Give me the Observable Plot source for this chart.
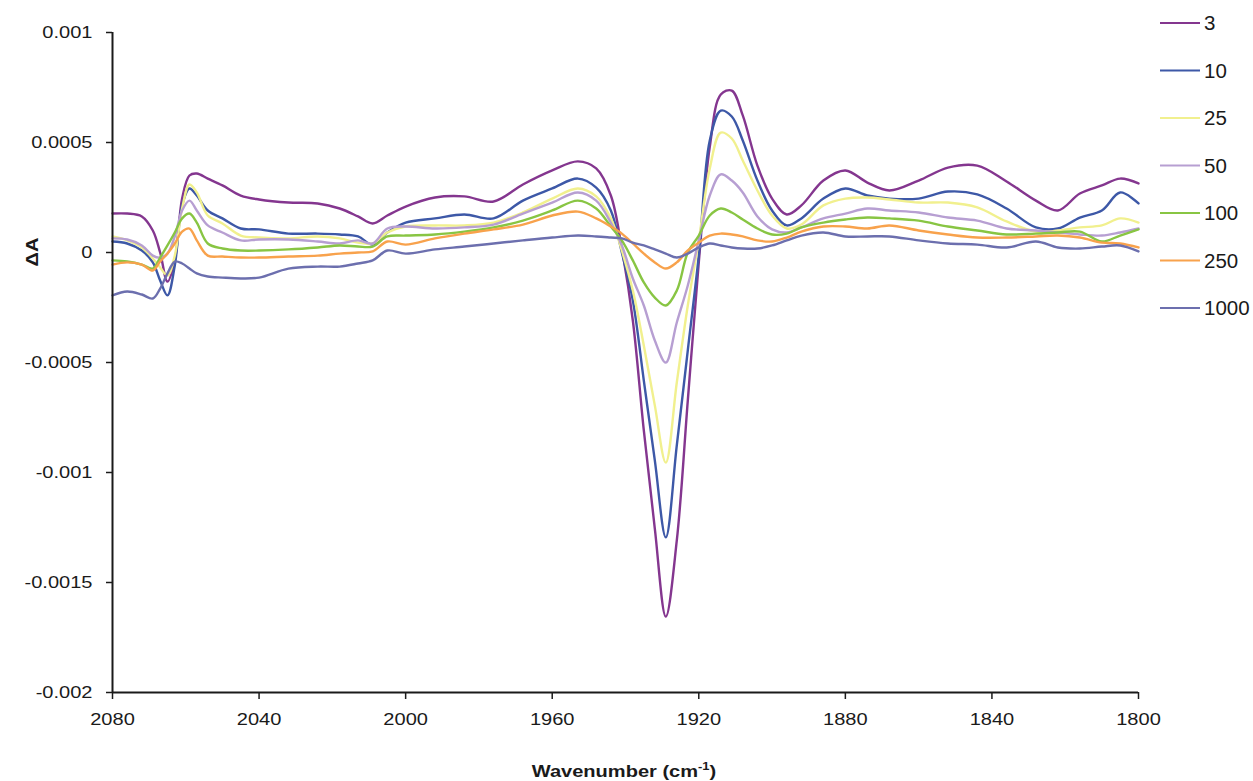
<!DOCTYPE html>
<html>
<head>
<meta charset="utf-8">
<script src="https://cdn.jsdelivr.net/npm/d3@7"></script>
<script src="https://cdn.jsdelivr.net/npm/@observablehq/plot@0.6"></script>
<style>
  html, body { margin: 0; padding: 0; background: #ffffff; }
  #chart { width: 1253px; height: 781px; }
</style>
</head>
<body>
<div id="chart"></div>
<script>
// ---- Data ----
const seriesNames = ["3", "10", "25", "50", "100", "250", "1000"];
const seriesColors = ["#84368f", "#3d58a7", "#f1f08e", "#b79fd2", "#88c543", "#f8a24c", "#6c6fae"];

const xTicks = [2080, 2040, 2000, 1960, 1920, 1880, 1840, 1800];
const yTicks = [0.001, 0.0005, 0, -0.0005, -0.001, -0.0015, -0.002];
const yTickLabels = ["0.001", "0.0005", "0", "-0.0005", "-0.001", "-0.0015", "-0.002"];

const wavenumber = [2080,2076,2072,2069,2067,2065,2063,2061,2059,2057,
  2054,2050,2045,2040,2032,2024,2018,2013,2009,2005,
  2000,1992,1984,1976,1968,1960,1953,1948,1944,1941,
  1938,1935,1932,1929,1926,1923,1920,1917,1914,1911,
  1908,1904,1900,1896,1892,1886,1880,1874,1868,1860,
  1852,1844,1836,1828,1822,1816,1810,1805,1800];

const dA_3 = [1.77e-4,1.77e-4,1.64e-4,1.00e-4,0,-1.32e-4,-0.36e-4,2.45e-4,3.50e-4,3.59e-4,
  3.36e-4,3.05e-4,2.59e-4,2.41e-4,2.27e-4,2.23e-4,2.00e-4,1.64e-4,1.32e-4,1.68e-4,
  2.09e-4,2.50e-4,2.55e-4,2.32e-4,3.09e-4,3.73e-4,4.14e-4,3.82e-4,2.59e-4,0.18e-4,
  -3.09e-4,-8.09e-4,-12.55e-4,-16.55e-4,-13.09e-4,-6.73e-4,-0.45e-4,4.80e-4,7.18e-4,7.36e-4,
  6.23e-4,3.95e-4,2.45e-4,1.73e-4,2.14e-4,3.27e-4,3.73e-4,3.18e-4,2.82e-4,3.27e-4,
  3.86e-4,3.95e-4,3.23e-4,2.36e-4,1.91e-4,2.68e-4,3.05e-4,3.36e-4,3.14e-4];

const dA_10 = [0.50e-4,0.41e-4,0.09e-4,-0.45e-4,-1.27e-4,-1.95e-4,-0.59e-4,2.14e-4,2.91e-4,2.59e-4,
  1.91e-4,1.55e-4,1.09e-4,1.05e-4,0.86e-4,0.86e-4,0.82e-4,0.73e-4,0.36e-4,0.91e-4,
  1.36e-4,1.55e-4,1.73e-4,1.55e-4,2.36e-4,2.91e-4,3.36e-4,2.95e-4,1.91e-4,0,
  -2.18e-4,-5.82e-4,-9.45e-4,-12.95e-4,-8.77e-4,-4.45e-4,-0.14e-4,5.09e-4,6.45e-4,6.18e-4,
  5.09e-4,3.27e-4,1.91e-4,1.23e-4,1.55e-4,2.45e-4,2.91e-4,2.59e-4,2.45e-4,2.45e-4,
  2.77e-4,2.64e-4,2.00e-4,1.14e-4,1.09e-4,1.59e-4,1.91e-4,2.73e-4,2.23e-4];

const dA_25 = [0.73e-4,0.55e-4,0.23e-4,-0.27e-4,-0.68e-4,-1.05e-4,-0.14e-4,2.00e-4,3.09e-4,2.73e-4,
  1.68e-4,1.32e-4,0.77e-4,0.68e-4,0.64e-4,0.73e-4,0.64e-4,0.45e-4,0.41e-4,0.91e-4,
  1.18e-4,1.23e-4,1.23e-4,1.36e-4,1.82e-4,2.45e-4,2.91e-4,2.55e-4,1.55e-4,0.09e-4,
  -1.73e-4,-4.23e-4,-6.95e-4,-9.55e-4,-5.91e-4,-2.41e-4,0.55e-4,3.82e-4,5.45e-4,5.18e-4,
  4.18e-4,2.82e-4,1.68e-4,1.09e-4,1.27e-4,2.14e-4,2.45e-4,2.50e-4,2.41e-4,2.27e-4,
  2.27e-4,2.05e-4,1.41e-4,0.95e-4,1.00e-4,1.14e-4,1.23e-4,1.55e-4,1.36e-4];

const dA_50 = [0.64e-4,0.59e-4,0.32e-4,-0.14e-4,-0.23e-4,-0.05e-4,0.73e-4,1.91e-4,2.36e-4,1.91e-4,
  1.23e-4,0.91e-4,0.55e-4,0.59e-4,0.59e-4,0.50e-4,0.41e-4,0.55e-4,0.41e-4,1.09e-4,
  1.18e-4,1.09e-4,1.14e-4,1.27e-4,1.77e-4,2.27e-4,2.73e-4,2.36e-4,1.36e-4,0.32e-4,
  -1.18e-4,-2.41e-4,-4.00e-4,-5.00e-4,-3.18e-4,-1.50e-4,0.55e-4,2.59e-4,3.55e-4,3.27e-4,
  2.73e-4,1.64e-4,1.05e-4,0.91e-4,1.14e-4,1.55e-4,1.77e-4,2.00e-4,1.91e-4,1.82e-4,
  1.59e-4,1.45e-4,1.09e-4,1.00e-4,0.91e-4,0.82e-4,0.77e-4,0.91e-4,1.09e-4];

const dA_100 = [-0.36e-4,-0.41e-4,-0.55e-4,-0.73e-4,-0.23e-4,0.32e-4,0.91e-4,1.55e-4,1.77e-4,1.36e-4,
  0.41e-4,0.18e-4,0.09e-4,0.09e-4,0.14e-4,0.23e-4,0.32e-4,0.27e-4,0.27e-4,0.73e-4,
  0.77e-4,0.82e-4,0.95e-4,1.14e-4,1.45e-4,1.91e-4,2.36e-4,2.00e-4,1.18e-4,0.55e-4,
  -0.36e-4,-1.36e-4,-2.05e-4,-2.41e-4,-1.73e-4,0,0.77e-4,1.68e-4,2.00e-4,1.82e-4,
  1.50e-4,1.09e-4,0.82e-4,0.86e-4,1.14e-4,1.36e-4,1.50e-4,1.59e-4,1.55e-4,1.45e-4,
  1.18e-4,1.00e-4,0.82e-4,0.86e-4,0.91e-4,0.95e-4,0.50e-4,0.77e-4,1.05e-4];

const dA_250 = [-0.55e-4,-0.45e-4,-0.55e-4,-0.82e-4,-0.41e-4,-0.05e-4,0.41e-4,0.95e-4,1.09e-4,0.55e-4,
  -0.14e-4,-0.18e-4,-0.23e-4,-0.23e-4,-0.18e-4,-0.14e-4,-0.05e-4,0,0.05e-4,0.50e-4,
  0.36e-4,0.64e-4,0.86e-4,1.05e-4,1.27e-4,1.68e-4,1.86e-4,1.55e-4,1.18e-4,0.86e-4,
  0.41e-4,-0.05e-4,-0.45e-4,-0.73e-4,-0.45e-4,0.09e-4,0.45e-4,0.77e-4,0.86e-4,0.82e-4,
  0.73e-4,0.55e-4,0.50e-4,0.68e-4,0.95e-4,1.18e-4,1.18e-4,1.09e-4,1.23e-4,1.00e-4,
  0.82e-4,0.68e-4,0.68e-4,0.73e-4,0.77e-4,0.68e-4,0.45e-4,0.41e-4,0.23e-4];

const dA_1000 = [-1.95e-4,-1.77e-4,-1.91e-4,-2.09e-4,-1.64e-4,-0.95e-4,-0.41e-4,-0.50e-4,-0.73e-4,-0.95e-4,
  -1.09e-4,-1.14e-4,-1.18e-4,-1.14e-4,-0.73e-4,-0.64e-4,-0.64e-4,-0.50e-4,-0.36e-4,0.09e-4,
  -0.05e-4,0.14e-4,0.27e-4,0.41e-4,0.55e-4,0.68e-4,0.77e-4,0.73e-4,0.68e-4,0.64e-4,
  0.45e-4,0.32e-4,0.14e-4,-0.05e-4,-0.23e-4,-0.05e-4,0.23e-4,0.41e-4,0.32e-4,0.23e-4,
  0.18e-4,0.18e-4,0.32e-4,0.55e-4,0.77e-4,0.91e-4,0.73e-4,0.73e-4,0.73e-4,0.55e-4,
  0.41e-4,0.36e-4,0.23e-4,0.50e-4,0.23e-4,0.18e-4,0.27e-4,0.32e-4,0.05e-4];

const seriesValues = [dA_3, dA_10, dA_25, dA_50, dA_100, dA_250, dA_1000];

// ---- Build table ----
const rows = [];
seriesNames.forEach((name, k) => {
  seriesValues[k].forEach((v, i) => rows.push({ w: wavenumber[i], v: v, s: name }));
});

const FONT = "'Liberation Sans', Arial, Helvetica, sans-serif";
const STRETCH = 1.18; // the reference lettering is horizontally wide

const chart = Plot.plot({
  width: 1253,
  height: 781,
  marginLeft: 112,
  marginRight: 115,
  marginTop: 32,
  marginBottom: 89,
  style: { fontFamily: FONT, fontSize: "17px", color: "#1a1a1a", background: "#ffffff", overflow: "visible" },
  x: { domain: [2080, 1800] },
  y: { domain: [-0.002, 0.001] },
  color: { domain: seriesNames, range: seriesColors },
  marks: [
    Plot.axisX({ ticks: xTicks, tickFormat: d => String(d), tickSize: 7, tickPadding: 13, label: null, strokeWidth: 1.5 }),
    Plot.axisY({ ticks: yTicks, tickFormat: d => yTickLabels[yTicks.indexOf(d)], tickSize: 6, tickPadding: 14, label: null, strokeWidth: 1.5 }),
    Plot.line(rows, { x: "w", y: "v", z: "s", stroke: "s", curve: "catmull-rom", strokeWidth: 2.4, strokeLinejoin: "round" }),
    Plot.ruleX([2080], { stroke: "#1a1a1a", strokeWidth: 2 }),
    Plot.ruleY([-0.002], { stroke: "#1a1a1a", strokeWidth: 2 })
  ]
});

document.getElementById("chart").appendChild(chart);

// ---- Widen tick label lettering like the reference ----
const svg = d3.select(chart);
svg.selectAll('g[aria-label="x-axis tick label"] text, g[aria-label="y-axis tick label"] text')
  .each(function () {
    const t = this.getAttribute("transform") || "";
    this.setAttribute("transform", t + " scale(" + STRETCH + ",1)");
  });

// ---- Axis titles and legend ----
const xt = svg.append("text")
  .attr("transform", "translate(624,777) scale(" + STRETCH + ",1)")
  .attr("text-anchor", "middle")
  .attr("font-family", FONT).attr("font-weight", "bold").attr("font-size", 17)
  .attr("fill", "#1a1a1a");
xt.append("tspan").text("Wavenumber (cm");
xt.append("tspan").attr("dy", -7).attr("font-size", 11).text("-1");
xt.append("tspan").attr("dy", 7).text(")");

svg.append("text")
  .attr("transform", "translate(38,252) rotate(-90) scale(" + STRETCH + ",1)")
  .attr("text-anchor", "middle")
  .attr("font-family", FONT).attr("font-weight", "bold").attr("font-size", 17)
  .attr("fill", "#1a1a1a")
  .text("ΔA");

const legend = svg.append("g");
seriesNames.forEach((name, k) => {
  const y = 23 + k * 47.5;
  legend.append("line")
    .attr("x1", 1160).attr("x2", 1200).attr("y1", y).attr("y2", y)
    .attr("stroke", seriesColors[k]).attr("stroke-width", 2);
  legend.append("text")
    .attr("x", 1204).attr("y", y).attr("dy", "0.36em")
    .attr("text-anchor", "start")
    .attr("font-family", FONT).attr("font-size", 20.5)
    .attr("fill", "#1a1a1a")
    .text(name);
});
</script>
</body>
</html>
